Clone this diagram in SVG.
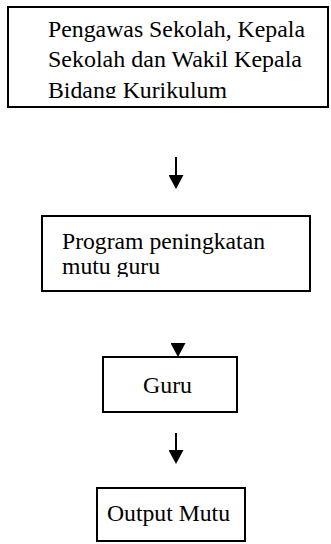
<svg xmlns="http://www.w3.org/2000/svg" width="331" height="544" viewBox="0 0 331 544">
<style>
.box{fill:#fff;stroke:#000;stroke-width:2}
.t{font-family:"Liberation Serif","Times New Roman",serif;font-size:22.5px;fill:#000}
.c{stroke:#000;stroke-width:2;fill:none}
</style>
<defs>
<marker id="ah" markerUnits="userSpaceOnUse" viewBox="0 0 14 15" markerWidth="14" markerHeight="15" refX="5" refY="7.5" orient="auto">
<path d="M0,0 L14,7.5 L0,15 z" fill="#000"/>
</marker>
<clipPath id="clip1"><rect x="0" y="0" width="331" height="98"/></clipPath>
<clipPath id="clip2"><rect x="0" y="210" width="331" height="67"/></clipPath>
</defs>
<rect width="331" height="544" fill="#fff"/>
<g id="node-pengawas">
<rect class="box" x="8" y="7" width="320" height="100"/>
<g clip-path="url(#clip1)">
<text class="t" x="48" y="37" textLength="257" lengthAdjust="spacingAndGlyphs">Pengawas Sekolah, Kepala</text>
<text class="t" x="48" y="67" textLength="254" lengthAdjust="spacingAndGlyphs">Sekolah dan Wakil Kepala</text>
<text class="t" x="48" y="98" textLength="179" lengthAdjust="spacingAndGlyphs">Bidang Kurikulum</text>
</g>
</g>
<g id="node-program">
<rect class="box" x="42" y="216" width="268" height="75"/>
<g clip-path="url(#clip2)">
<text class="t" x="62" y="249" textLength="203" lengthAdjust="spacingAndGlyphs">Program peningkatan</text>
<text class="t" x="62" y="274" textLength="98" lengthAdjust="spacingAndGlyphs">mutu guru</text>
</g>
</g>
<g id="node-guru">
<rect class="box" x="103" y="357" width="134" height="55"/>
<text class="t" x="143" y="393" textLength="49" lengthAdjust="spacingAndGlyphs">Guru</text>
</g>
<g id="node-output">
<rect class="box" x="97" y="488" width="148" height="53"/>
<text class="t" x="107" y="521" textLength="123" lengthAdjust="spacingAndGlyphs">Output Mutu</text>
</g>
<g id="connectors">
<path class="c" d="M176,157 V180" marker-end="url(#ah)"/>
<path class="c" d="M178,343 V348" marker-end="url(#ah)"/>
<path class="c" d="M176,433 V455" marker-end="url(#ah)"/>
</g>
</svg>
